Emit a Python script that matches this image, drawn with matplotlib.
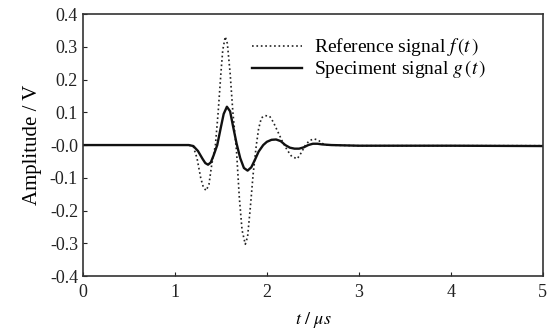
import numpy as np
import matplotlib.pyplot as plt
from matplotlib.ticker import FuncFormatter

plt.rcParams['font.family'] = ['Liberation Serif', 'DejaVu Serif']
plt.rcParams['mathtext.fontset'] = 'stix'

# reference signal f(t)
t_f = [0, 1.15, 1.2, 1.24, 1.28, 1.31, 1.34, 1.37, 1.40, 1.44, 1.47, 1.50, 1.52,
       1.547, 1.57, 1.60, 1.63, 1.67, 1.70, 1.73, 1.765, 1.79, 1.82, 1.85, 1.885,
       1.91, 1.94, 1.98, 2.03, 2.07, 2.12, 2.17, 2.22, 2.27, 2.33, 2.37, 2.42,
       2.46, 2.51, 2.56, 2.6, 2.65, 3.0, 4.0, 5.0]
v_f = [0, 0, -0.005, -0.04, -0.10, -0.13, -0.139, -0.12, -0.06, 0.0, 0.10, 0.22, 0.29,
       0.331, 0.31, 0.22, 0.10, -0.02, -0.16, -0.26, -0.303, -0.28, -0.19, -0.09, 0.0,
       0.05, 0.083, 0.09, 0.088, 0.07, 0.04, 0.01, -0.015, -0.035, -0.042, -0.025, 0.0,
       0.013, 0.019, 0.015, 0.005, 0.0, -0.002, -0.002, -0.002]

# specimen signal g(t)
t_g = [0, 1.15, 1.2, 1.25, 1.3, 1.33, 1.36, 1.39, 1.42, 1.46, 1.5, 1.53, 1.565,
       1.6, 1.63, 1.67, 1.71, 1.75, 1.79, 1.83, 1.87, 1.91, 1.96, 2.0, 2.05, 2.1,
       2.15, 2.2, 2.25, 2.3, 2.35, 2.4, 2.45, 2.5, 2.55, 2.6, 2.7, 3.0, 4.0, 5.0]
v_g = [0, 0, -0.003, -0.018, -0.042, -0.055, -0.060, -0.053, -0.032, 0.0, 0.055, 0.095, 0.117,
       0.103, 0.06, 0.005, -0.04, -0.07, -0.078, -0.068, -0.045, -0.02, 0.0, 0.01, 0.016, 0.017,
       0.012, 0.0, -0.008, -0.011, -0.011, -0.007, 0.0, 0.004, 0.004, 0.002, 0.0, -0.002, -0.002, -0.003]

fig = plt.figure(figsize=(5.55, 3.35), dpi=100)
ax = fig.add_axes([0.1495, 0.176, 0.8285, 0.782])

ax.plot(t_f, v_f, ls=':', c='#222222', lw=1.2, label=r'Reference signal $f\,(t\,)$')
ax.plot(t_g, v_g, ls='-', c='#111111', lw=1.7, label=r'Speciment signal $g\,(t\,)$')

ax.set_xlim(0, 5)
ax.set_ylim(-0.4, 0.4)
ax.set_xticks([0, 1, 2, 3, 4, 5])
ax.set_yticks(np.arange(-0.4, 0.41, 0.1))
ax.yaxis.set_major_formatter(FuncFormatter(lambda v, p: ('%.1f' % v).replace('−', '-')))
ax.tick_params(direction='in', length=3, labelsize=13, colors='#222222')
ax.tick_params(axis='x', pad=6)
for s in ax.spines.values():
    s.set_color('#333333')
    s.set_linewidth(1.2)

ax.set_ylabel('Amplitude / V', fontsize=15, labelpad=6)
ax.set_xlabel(r'$t\ /\ \mu s$', fontsize=13, labelpad=6)

ax.legend(loc='upper left', bbox_to_anchor=(0.367, 0.915), frameon=False, fontsize=14,
          handlelength=2.6, handletextpad=0.6, labelspacing=0.0,
          borderpad=0, borderaxespad=0)

fig.savefig('out.png', dpi=100)
